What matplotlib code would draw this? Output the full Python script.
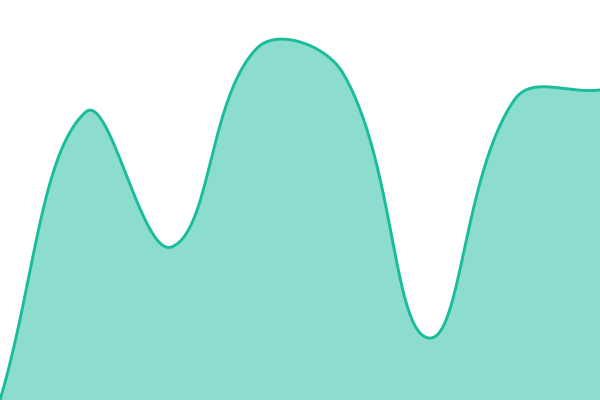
import numpy as np
from matplotlib import pyplot as plt

# values (chart has no visible axes)
labels = ["1", "2", "3", "4", "5", "6", "7", "8"]
values = [0, 288, 153, 352, 327, 62, 300, 310]
y_max = 400

color_line = "#1abc9c"
tension = 0.4


# chart.js style bezier control points through the points
def spline(xs, ys, t):
  n = len(xs)
  c1 = []
  c2 = []
  for i in range(n):
    px, py = (xs[i - 1], ys[i - 1]) if i > 0 else (xs[i], ys[i])
    nx, ny = (xs[i + 1], ys[i + 1]) if i < n - 1 else (xs[i], ys[i])
    d01 = np.hypot(xs[i] - px, ys[i] - py)
    d12 = np.hypot(nx - xs[i], ny - ys[i])
    tot = d01 + d12
    s01 = d01 / tot if tot else 0
    s12 = d12 / tot if tot else 0
    fa = t * s01
    fb = t * s12
    c1.append((xs[i] - fa * (nx - px), ys[i] - fa * (ny - py)))
    c2.append((xs[i] + fb * (nx - px), ys[i] + fb * (ny - py)))
  cx = []
  cy = []
  u = np.linspace(0, 1, 60)
  for i in range(n - 1):
    p0 = np.array([xs[i], ys[i]])
    p1 = np.array(c2[i])
    p2 = np.array(c1[i + 1])
    p3 = np.array([xs[i + 1], ys[i + 1]])
    for k in u[:-1] if i < n - 2 else u:
      p = (1 - k) ** 3 * p0 + 3 * (1 - k) ** 2 * k * p1 + 3 * (1 - k) * k ** 2 * p2 + k ** 3 * p3
      cx.append(p[0])
      cy.append(p[1])
  return np.array(cx), np.array(cy)


x = np.arange(len(values))
# work in pixel-like units so the tension behaves as in the browser
sx = 600 / (len(values) - 1)
cx, cy = spline(x * sx, np.array(values, dtype=float), tension)

fig = plt.figure(figsize=(6, 4), dpi=100)
ax = fig.add_axes([0, 0, 1, 1])
ax.fill_between(cx / sx, cy, 0, color=color_line, alpha=0.5, linewidth=0)
ax.plot(cx / sx, cy, color=color_line, linewidth=2.1, solid_capstyle="round")
ax.set_xlim(0, len(values) - 1)
ax.set_ylim(0, y_max)
ax.axis("off")
fig.savefig("out.png", dpi=100)
